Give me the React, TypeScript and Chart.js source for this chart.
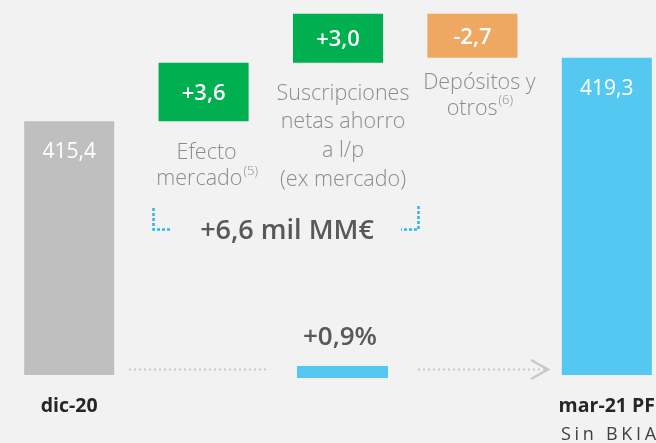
import React, { useEffect, useRef } from "react";
import { Chart, registerables } from "chart.js";

Chart.register(...registerables);

// ---- data ----
const categories = ["dic-20", "Efecto mercado", "Suscripciones netas ahorro a l/p (ex mercado)", "Depósitos y otros", "mar-21 PF"];
const startValue = 415.4;
const changes = [3.6, 3.0, -2.7];
const endValue = 419.3;
const valueLabels = ["415,4", "+3,6", "+3,0", "-2,7", "419,3"];
const descLines = [[], ["Efecto", "mercado"], ["Suscripciones", "netas ahorro", "a l/p", "(ex mercado)"], ["Depósitos y", "otros"], []];
const descNotes = ["", "(5)", "", "(6)", ""];
const totalChangeLabel = "+6,6 mil MM€";
const pctChangeLabel = "+0,9%";
const subLabel = "Sin BKIA";
const axisMin = 399.8;
const axisMax = 422.85;

const barColors = ["#bfbfbf", "#00b050", "#00b050", "#eea862", "#55c8f2"];

// build waterfall ranges from the values
const barData: (number | [number, number])[] = [];
{
  barData.push(startValue);
  let cum = startValue;
  for (const c of changes) {
    const next = Math.round((cum + c) * 10) / 10;
    barData.push([cum, next]);
    cum = next;
  }
  barData.push(endValue);
}

const FONT = "'Open Sans', 'Noto Sans', sans-serif";

const annotations = {
  id: "annotations",
  afterDatasetsDraw(chart: any) {
    const ctx = chart.ctx as CanvasRenderingContext2D;
    const meta = chart.getDatasetMeta(0);
    const els = meta.data;
    ctx.save();
    ctx.textAlign = "center";
    ctx.textBaseline = "middle";

    // value labels
    els.forEach((el: any, i: number) => {
      const top = Math.min(el.y, el.base);
      const bottom = Math.max(el.y, el.base);
      ctx.fillStyle = "#ffffff";
      if (i === 0 || i === els.length - 1) {
        ctx.font = `400 21px ${FONT}`;
        ctx.fillText(valueLabels[i], el.x, top + 31);
      } else {
        ctx.font = `600 22px ${FONT}`;
        ctx.fillText(valueLabels[i], el.x, (top + bottom) / 2 + 2);
      }
    });

    // description labels
    const descCfg: Record<number, { dx: number; dy: number; lh: number }> = {
      1: { dx: 3, dy: 32, lh: 26 },
      2: { dx: 5, dy: 31, lh: 28.7 },
      3: { dx: 7, dy: 25, lh: 26 },
    };
    ctx.fillStyle = "#8c8c8c";
    for (const k of Object.keys(descCfg)) {
      const i = Number(k);
      const el: any = els[i];
      const cfg = descCfg[i];
      const bottom = Math.max(el.y, el.base);
      const lines = descLines[i];
      lines.forEach((line: string, li: number) => {
        const y = bottom + cfg.dy + li * cfg.lh;
        ctx.font = `300 21.5px ${FONT}`;
        const isLast = li === lines.length - 1 && descNotes[i];
        if (isLast) {
          const w = ctx.measureText(line).width;
          ctx.font = `300 13px ${FONT}`;
          const wn = ctx.measureText(descNotes[i]).width;
          const x0 = el.x + cfg.dx - (w + wn) / 2;
          ctx.textAlign = "left";
          ctx.font = `300 21.5px ${FONT}`;
          ctx.fillText(line, x0, y);
          ctx.font = `300 13px ${FONT}`;
          ctx.fillText(descNotes[i], x0 + w + 1, y - 8);
          ctx.textAlign = "center";
        } else {
          ctx.fillText(line, el.x + cfg.dx, y);
        }
      });
    }

    // brackets
    ctx.strokeStyle = "#2db6ed";
    ctx.lineWidth = 2.5;
    ctx.setLineDash([3, 2]);
    ctx.beginPath();
    ctx.moveTo(153.5, 208);
    ctx.lineTo(153.5, 229.5);
    ctx.lineTo(171, 229.5);
    ctx.stroke();
    ctx.beginPath();
    ctx.moveTo(418.5, 206);
    ctx.lineTo(418.5, 229.5);
    ctx.lineTo(401, 229.5);
    ctx.stroke();

    // total change
    ctx.setLineDash([]);
    ctx.fillStyle = "#595959";
    ctx.font = `600 27px ${FONT}`;
    ctx.fillText(totalChangeLabel, 287, 231);

    // pct change
    const mid: any = els[2];
    ctx.font = `600 26px ${FONT}`;
    ctx.fillText(pctChangeLabel, mid.x + 2, 338);
    ctx.fillStyle = "#55c8f2";
    ctx.fillRect(mid.x - 41, 366, 91, 12);

    // grey dotted arrows
    ctx.strokeStyle = "#c8c8c8";
    ctx.lineWidth = 2;
    ctx.setLineDash([2, 3]);
    ctx.beginPath();
    ctx.moveTo(129, 369.5);
    ctx.lineTo(268, 369.5);
    ctx.stroke();
    ctx.beginPath();
    ctx.moveTo(418, 369.5);
    ctx.lineTo(546, 369.5);
    ctx.stroke();
    ctx.setLineDash([]);
    ctx.lineWidth = 2.5;
    ctx.beginPath();
    ctx.moveTo(531, 360);
    ctx.lineTo(548, 369.5);
    ctx.lineTo(531, 379);
    ctx.stroke();

    // category labels
    const first: any = els[0];
    const last: any = els[els.length - 1];
    ctx.fillStyle = "#262626";
    ctx.font = `700 19.5px ${FONT}`;
    ctx.fillText(categories[0], first.x, 406);
    ctx.fillText(categories[categories.length - 1], last.x, 406);
    ctx.fillStyle = "#404040";
    ctx.font = `400 18px ${FONT}`;
    (ctx as any).letterSpacing = "3.7px";
    ctx.textAlign = "left";
    ctx.fillText(subLabel, 561, 435);
    ctx.restore();
  },
};

export default function App() {
  const ref = useRef<HTMLCanvasElement | null>(null);
  useEffect(() => {
    if (!ref.current) return;
    const chart = new Chart(ref.current, {
      type: "bar",
      data: {
        labels: categories,
        datasets: [
          {
            label: "Activos bajo gestión",
            data: barData as any,
            backgroundColor: barColors,
            borderWidth: 0,
            barPercentage: 0.67,
            categoryPercentage: 1,
          },
        ],
      },
      options: {
        animation: false,
        responsive: false,
        maintainAspectRatio: false,
        layout: { padding: { left: 2, right: 6, top: 0, bottom: 68 } },
        plugins: { legend: { display: false }, tooltip: { enabled: false } },
        scales: {
          x: { display: false, grid: { display: false } },
          y: { display: false, min: axisMin, max: axisMax, grid: { display: false } },
        },
      },
      plugins: [annotations],
    });
    return () => chart.destroy();
  }, []);
  return (
    <div
      style={{
        position: "fixed",
        left: 0,
        top: 0,
        width: 656,
        height: 443,
        overflow: "hidden",
        background: "#f2f2f2",
      }}
    >
      <canvas ref={ref} width={680} height={443} style={{ display: "block", width: 680, height: 443 }} />
    </div>
  );
}
